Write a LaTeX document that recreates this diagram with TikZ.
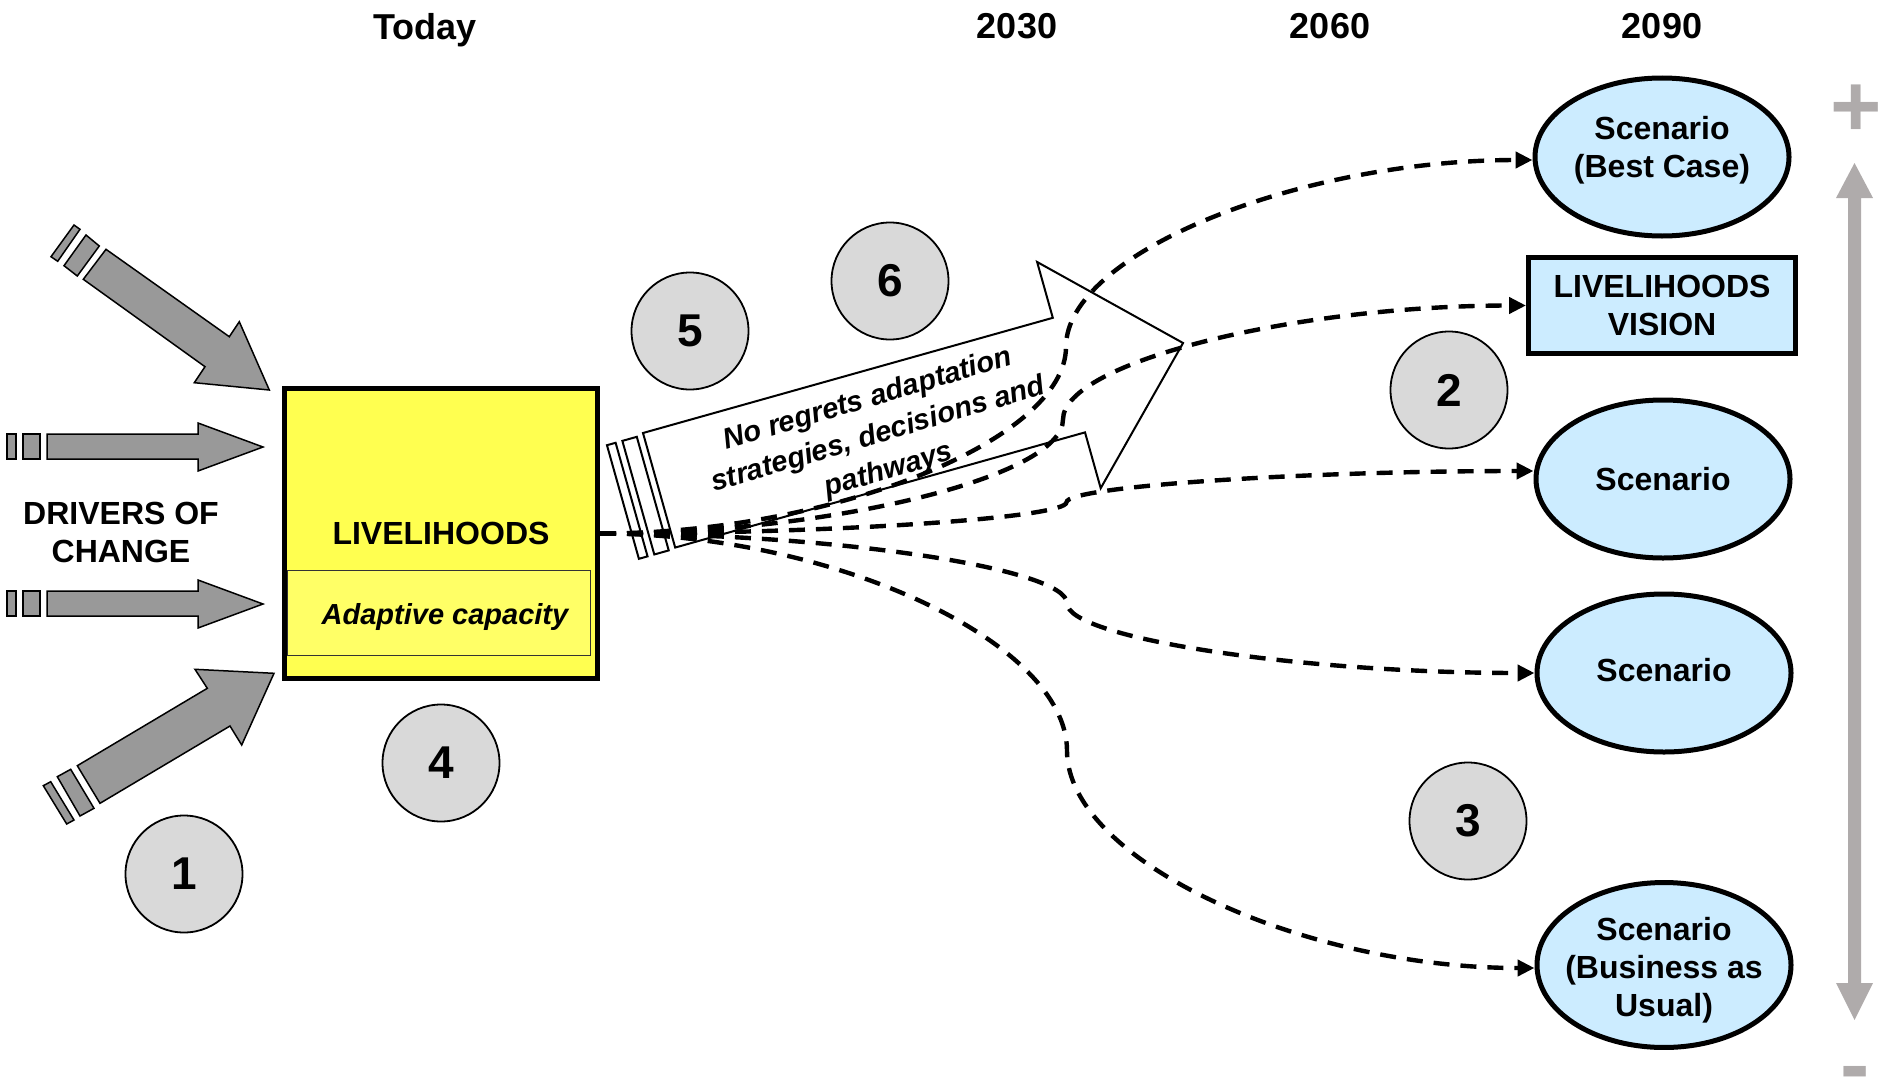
\documentclass[tikz,border=0pt]{standalone}
\usepackage{fontspec}
\setmainfont{Liberation Sans}
\usetikzlibrary{arrows.meta,shapes.geometric}
\definecolor{ltblue}{RGB}{204,236,255}
\definecolor{cgray}{RGB}{217,217,217}
\definecolor{boxyellow}{RGB}{255,255,80}
\definecolor{inyellow}{RGB}{255,255,102}
\definecolor{drvgray}{RGB}{153,153,153}
\definecolor{axgray}{RGB}{175,171,171}
\begin{document}
\begin{tikzpicture}[x=1pt,y=-1pt,
  hdr/.style={font=\bfseries\fontsize{36}{40}\selectfont, anchor=base, inner sep=0pt},
  scen/.style={ellipse, draw=black, line width=5pt, fill=ltblue, minimum width=254pt, minimum height=158pt, inner xsep=-25pt, inner ysep=0pt, align=center, font=\bfseries\fontsize{32}{38}\selectfont},
  num/.style={circle, draw=black, line width=1.8pt, fill=cgray, minimum size=117pt, inner sep=0pt, font=\bfseries\fontsize{46}{50}\selectfont},
  drv/.style={draw=black, line width=1.5pt, fill=drvgray, line join=miter},
  strp/.style={draw=black, line width=2pt, fill=white},
  flow/.style={line width=4.4pt, dash pattern=on 16pt off 11pt, -{Triangle[length=17pt,width=16pt]}},
]
\useasboundingbox (0,0) rectangle (1879,1081);
% headers
\node[hdr] (today) at (425,40) {Today};
\node[hdr] (y2030) at (1017,39) {2030};
\node[hdr] (y2060) at (1330,39) {2060};
\node[hdr] (y2090) at (1662,39) {2090};

% drivers of change arrows
\draw[drv] (106,249.3) -- (229.3,336.7) -- (239.3,321.7) -- (269.3,390) -- (194.3,382.7) -- (205,366.7) -- (83.3,279.3) -- cycle;
\draw[drv] (86,235) -- (99.3,246) -- (77.3,276) -- (64,265.7) -- cycle;
\draw[drv] (74,225) -- (80,229.3) -- (57.7,261.3) -- (51,256.7) -- cycle;

\draw[drv] (47,434) -- (198,434) -- (198,423) -- (263,447) -- (198,471) -- (198,459) -- (47,459) -- cycle;
\draw[drv] (7,434) rectangle (16,459);
\draw[drv] (23,434) rectangle (40,459);

\draw[drv] (47,591) -- (198,591) -- (198,580) -- (263,604) -- (198,628) -- (198,616) -- (47,616) -- cycle;
\draw[drv] (7,591) rectangle (16,616);
\draw[drv] (23,591) rectangle (40,616);

\draw[drv] (77.3,765.7) -- (207.3,688.3) -- (195,669.3) -- (274,673.3) -- (241.7,745) -- (230,726) -- (100,803.3) -- cycle;
\draw[drv] (57.3,776.7) -- (70.7,769.3) -- (94,808.3) -- (80,816) -- cycle;
\draw[drv] (43.3,785.7) -- (50.7,781.7) -- (74,820) -- (66.7,824) -- cycle;

\node[align=center, font=\bfseries\fontsize{32}{38}\selectfont] (drivers) at (121,532) {DRIVERS OF\\CHANGE};

% livelihoods box
\node[draw=black, line width=5pt, fill=boxyellow, minimum width=313pt, minimum height=290pt, inner sep=0pt, font=\bfseries\fontsize{32}{36}\selectfont] (live) at (441,533.5) {LIVELIHOODS};
\node[draw=black!80, line width=1.2pt, fill=inyellow, minimum width=303pt, minimum height=85pt, inner sep=0pt, text height=28pt, text depth=6pt, font=\bfseries\itshape\fontsize{29}{33}\selectfont] (adapt) at (439,613) {\hspace*{12pt}Adaptive capacity};

% numbered circles
\node[num] (n1) at (184,874) {1};
\node[num] (n2) at (1449,390) {2};
\node[num] (n3) at (1468,821) {3};
\node[num] (n4) at (441,763) {4};
\node[num] (n5) at (690,331) {5};
\node[num] (n6) at (890,281) {6};

% big open arrow
\begin{scope}[shift={(643,433)}, rotate=15.7]
  \draw[strp] (-38,2) rectangle (-29,120);
  \draw[strp] (-22,2) rectangle (-7,120);
  \draw[strp, line join=miter] (0,0) -- (425.7,0) -- (425.7,-58) -- (544.3,59.5) -- (425.7,177) -- (425.7,119) -- (0,119) -- cycle;
  \node[rotate=16.5, align=center, font=\bfseries\itshape\fontsize{29}{37}\selectfont] (nrtext) at (226,66) {No regrets adaptation\\strategies, decisions and\\pathways};
\end{scope}

% scenarios
\node[scen] (best) at (1662,157) {Scenario\\(Best Case)\rule[-21pt]{0pt}{0pt}};
\node[draw=black, line width=5pt, fill=ltblue, minimum width=267pt, minimum height=96pt, inner sep=0pt, align=center, font=\bfseries\fontsize{32}{38}\selectfont] (vision) at (1662,305.5) {LIVELIHOODS\\VISION};
\node[scen] (s3) at (1663,479) {Scenario};
\node[scen] (s4) at (1664,673) {Scenario\rule[-7pt]{0pt}{0pt}};
\node[scen] (bau) at (1664,965) {\rule{0pt}{34pt}Scenario\\(Business as\\Usual)};

% pathways
\draw[flow] (live.east) .. controls (833,533.5) and (1066,440) .. (1066,346.8) .. controls (1066,253.4) and (1299,160) .. ([yshift=-3pt]best.west);
\draw[flow] (live.east) .. controls (831.5,533.5) and (1063,476.5) .. (1063,419.5) .. controls (1063,362.5) and (1294.5,305.5) .. (vision.west);
\draw[flow] (live.east) .. controls (833,533.5) and (1066.5,517.9) .. (1066.5,502.25) .. controls (1066.5,486.6) and (1300,471) .. ([yshift=8pt]s3.west);
\draw[flow] (live.east) .. controls (833.5,533.5) and (1067,568.4) .. (1067,603.25) .. controls (1067,638.1) and (1300.5,673) .. (s4.west);
\draw[flow] (live.east) .. controls (833.5,533.5) and (1067,642.1) .. (1067,750.75) .. controls (1067,859.4) and (1300.5,968) .. ([yshift=-3pt]bau.west);

% vertical scale
\fill[axgray] (1848,198) -- (1836,198) -- (1854.5,163) -- (1873,198) -- (1861,198) -- (1861,983) -- (1873,983) -- (1854.5,1020) -- (1836,983) -- (1848,983) -- cycle;
\node[font=\bfseries\fontsize{88}{88}\selectfont, text=axgray, anchor=base, inner sep=0pt] (plus) at (1856.5,136) {+};
\node[font=\bfseries\fontsize{88}{88}\selectfont, text=axgray, anchor=base, inner sep=0pt] (minus) at (1855,1094) {-};
\end{tikzpicture}
\end{document}
